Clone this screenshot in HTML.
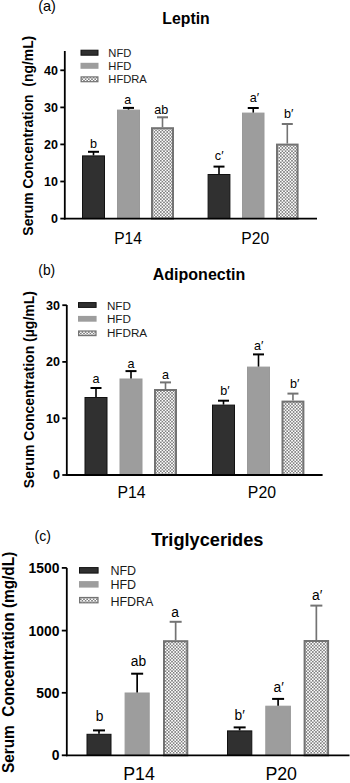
<!DOCTYPE html>
<html><head><meta charset="utf-8"><style>
html,body{margin:0;padding:0;background:#fff;}
body{width:350px;height:783px;overflow:hidden;}
svg{display:block;font-family:"Liberation Sans", sans-serif;}
</style></head><body>
<svg width="350" height="783" viewBox="0 0 350 783">
<defs>
<pattern id="chk" x="0" y="0" width="3.2" height="3.2" patternUnits="userSpaceOnUse">
<rect width="3.2" height="3.2" fill="#ffffff"/>
<rect width="1.6" height="1.6" fill="#808080"/>
<rect x="1.6" y="1.6" width="1.6" height="1.6" fill="#808080"/>
</pattern>
</defs>
<rect width="350" height="783" fill="#fff"/>
<text x="38.2" y="10.6" font-size="14.5" font-weight="normal" text-anchor="start" fill="#000" >(a)</text>
<text x="186" y="23.5" font-size="15.8" font-weight="bold" text-anchor="middle" fill="#000" >Leptin</text>
<text transform="translate(33.3,135.7) rotate(-90) scale(1,1)" font-size="13.9" font-weight="bold" text-anchor="middle" style="white-space:pre">Serum Concentration  (ng/mL)</text>
<rect x="81.0" y="50.2" width="17" height="5" fill="#303030" stroke="#111111" stroke-width="1"/>
<text x="108.3" y="56.5" font-size="11.2" font-weight="normal" text-anchor="start" fill="#1a1a1a" >NFD</text>
<rect x="80.5" y="62.8" width="18" height="6" fill="#9d9d9d"/>
<text x="108.3" y="69.6" font-size="11.2" font-weight="normal" text-anchor="start" fill="#1a1a1a" >HFD</text>
<rect x="81.1" y="76.89999999999999" width="16.8" height="4.8" fill="url(#chk)" stroke="#737373" stroke-width="1.2"/>
<text x="108.3" y="82.8" font-size="11.2" font-weight="normal" text-anchor="start" fill="#1a1a1a" >HFDRA</text>
<rect x="82.5" y="155.9" width="22" height="62.69999999999999" fill="#303030" stroke="#111111" stroke-width="1"/>
<line x1="93.5" y1="151.8" x2="93.5" y2="155.4" stroke="#000" stroke-width="1.6"/>
<line x1="88.0" y1="151.8" x2="99.0" y2="151.8" stroke="#000" stroke-width="2"/>
<text x="93.6" y="148.1" font-size="12.6" font-weight="normal" text-anchor="middle" fill="#000" >b</text>
<rect x="117.5" y="110.1" width="22" height="108.5" fill="#9d9d9d" stroke="#999999" stroke-width="1"/>
<line x1="128.5" y1="107.9" x2="128.5" y2="109.6" stroke="#000" stroke-width="1.6"/>
<line x1="123.0" y1="107.9" x2="134.0" y2="107.9" stroke="#000" stroke-width="2"/>
<text x="127.7" y="104" font-size="12.6" font-weight="normal" text-anchor="middle" fill="#000" >a</text>
<rect x="152" y="128.2" width="21" height="90.39999999999999" fill="url(#chk)" stroke="#737373" stroke-width="2"/>
<line x1="162.5" y1="117.3" x2="162.5" y2="127.2" stroke="#737373" stroke-width="1.6"/>
<line x1="157.0" y1="117.3" x2="168.0" y2="117.3" stroke="#737373" stroke-width="2"/>
<text x="161.2" y="113.6" font-size="12.6" font-weight="normal" text-anchor="middle" fill="#000" >ab</text>
<rect x="208.1" y="174.5" width="21.80000000000001" height="44.099999999999994" fill="#303030" stroke="#111111" stroke-width="1"/>
<line x1="219.0" y1="166.6" x2="219.0" y2="174" stroke="#000" stroke-width="1.6"/>
<line x1="213.5" y1="166.6" x2="224.5" y2="166.6" stroke="#000" stroke-width="2"/>
<text x="219.2" y="160" font-size="12.6" font-weight="normal" text-anchor="middle" fill="#000" >c′</text>
<rect x="242.5" y="113.1" width="21.5" height="105.5" fill="#9d9d9d" stroke="#999999" stroke-width="1"/>
<line x1="253.25" y1="108" x2="253.25" y2="112.6" stroke="#000" stroke-width="1.6"/>
<line x1="247.75" y1="108" x2="258.75" y2="108" stroke="#000" stroke-width="2"/>
<text x="254.5" y="101.6" font-size="12.6" font-weight="normal" text-anchor="middle" fill="#000" >a′</text>
<rect x="277" y="144.6" width="20.600000000000023" height="74.0" fill="url(#chk)" stroke="#737373" stroke-width="2"/>
<line x1="287.3" y1="124" x2="287.3" y2="143.6" stroke="#737373" stroke-width="1.6"/>
<line x1="281.8" y1="124" x2="292.8" y2="124" stroke="#737373" stroke-width="2"/>
<text x="288.7" y="117.6" font-size="12.6" font-weight="normal" text-anchor="middle" fill="#000" >b′</text>
<line x1="64.8" y1="51" x2="64.8" y2="219.5" stroke="#000" stroke-width="1.8"/>
<line x1="63.9" y1="218.6" x2="317" y2="218.6" stroke="#000" stroke-width="1.8"/>
<line x1="60.3" y1="70.3" x2="64.8" y2="70.3" stroke="#000" stroke-width="1.8"/>
<text x="58" y="74.7" font-size="12.5" font-weight="bold" text-anchor="end" fill="#000" >40</text>
<line x1="60.3" y1="107.4" x2="64.8" y2="107.4" stroke="#000" stroke-width="1.8"/>
<text x="58" y="111.80000000000001" font-size="12.5" font-weight="bold" text-anchor="end" fill="#000" >30</text>
<line x1="60.3" y1="144.4" x2="64.8" y2="144.4" stroke="#000" stroke-width="1.8"/>
<text x="58" y="148.8" font-size="12.5" font-weight="bold" text-anchor="end" fill="#000" >20</text>
<line x1="60.3" y1="181.5" x2="64.8" y2="181.5" stroke="#000" stroke-width="1.8"/>
<text x="58" y="185.9" font-size="12.5" font-weight="bold" text-anchor="end" fill="#000" >10</text>
<line x1="60.3" y1="218.6" x2="64.8" y2="218.6" stroke="#000" stroke-width="1.8"/>
<text x="58" y="223.0" font-size="12.5" font-weight="bold" text-anchor="end" fill="#000" >0</text>
<text x="128" y="243.6" font-size="15.6" font-weight="normal" text-anchor="middle" fill="#000" >P14</text>
<text x="255.2" y="243.6" font-size="15.6" font-weight="normal" text-anchor="middle" fill="#000" >P20</text>
<text x="38.3" y="274.6" font-size="13.8" font-weight="normal" text-anchor="start" fill="#000" >(b)</text>
<text x="199" y="279.7" font-size="16" font-weight="bold" text-anchor="middle" fill="#000" >Adiponectin</text>
<text transform="translate(34.3,389.6) rotate(-90) scale(1,1)" font-size="14" font-weight="bold" text-anchor="middle" style="white-space:pre">Serum Concentration (µg/mL)</text>
<rect x="78.5" y="302.6" width="17.6" height="4.8" fill="#303030" stroke="#111111" stroke-width="1"/>
<text x="106.9" y="309.5" font-size="11.7" font-weight="normal" text-anchor="start" fill="#1a1a1a" >NFD</text>
<rect x="78" y="315.9" width="18.6" height="5.8" fill="#9d9d9d"/>
<text x="106.9" y="323.3" font-size="11.7" font-weight="normal" text-anchor="start" fill="#1a1a1a" >HFD</text>
<rect x="78.6" y="331.0" width="17.400000000000002" height="4.6" fill="url(#chk)" stroke="#737373" stroke-width="1.2"/>
<text x="106.9" y="337.0" font-size="11.7" font-weight="normal" text-anchor="start" fill="#1a1a1a" >HFDRA</text>
<rect x="85.0" y="397.5" width="22.0" height="77.5" fill="#303030" stroke="#111111" stroke-width="1"/>
<line x1="96.0" y1="388" x2="96.0" y2="397" stroke="#000" stroke-width="1.6"/>
<line x1="90.5" y1="388" x2="101.5" y2="388" stroke="#000" stroke-width="2"/>
<text x="96.1" y="382.9" font-size="12.6" font-weight="normal" text-anchor="middle" fill="#000" >a</text>
<rect x="120.0" y="379.0" width="22.0" height="96.0" fill="#9d9d9d" stroke="#999999" stroke-width="1"/>
<line x1="131.0" y1="371.1" x2="131.0" y2="378.5" stroke="#000" stroke-width="1.6"/>
<line x1="125.5" y1="371.1" x2="136.5" y2="371.1" stroke="#000" stroke-width="2"/>
<text x="130.9" y="367.9" font-size="12.6" font-weight="normal" text-anchor="middle" fill="#000" >a</text>
<rect x="155" y="390" width="21" height="85" fill="url(#chk)" stroke="#737373" stroke-width="2"/>
<line x1="165.5" y1="382.4" x2="165.5" y2="389" stroke="#737373" stroke-width="1.6"/>
<line x1="160.0" y1="382.4" x2="171.0" y2="382.4" stroke="#737373" stroke-width="2"/>
<text x="165.4" y="379.4" font-size="12.6" font-weight="normal" text-anchor="middle" fill="#000" >a</text>
<rect x="212.5" y="405.1" width="22" height="69.89999999999998" fill="#303030" stroke="#111111" stroke-width="1"/>
<line x1="223.5" y1="400.7" x2="223.5" y2="404.6" stroke="#000" stroke-width="1.6"/>
<line x1="218.0" y1="400.7" x2="229.0" y2="400.7" stroke="#000" stroke-width="2"/>
<text x="225" y="395.4" font-size="12.6" font-weight="normal" text-anchor="middle" fill="#000" >b′</text>
<rect x="247.5" y="367.1" width="22" height="107.89999999999998" fill="#9d9d9d" stroke="#999999" stroke-width="1"/>
<line x1="258.5" y1="354.4" x2="258.5" y2="366.6" stroke="#000" stroke-width="1.6"/>
<line x1="253.0" y1="354.4" x2="264.0" y2="354.4" stroke="#000" stroke-width="2"/>
<text x="258.7" y="350" font-size="12.6" font-weight="normal" text-anchor="middle" fill="#000" >a′</text>
<rect x="282.5" y="401.6" width="20.899999999999977" height="73.39999999999998" fill="url(#chk)" stroke="#737373" stroke-width="2"/>
<line x1="292.95" y1="393.6" x2="292.95" y2="400.6" stroke="#737373" stroke-width="1.6"/>
<line x1="287.45" y1="393.6" x2="298.45" y2="393.6" stroke="#737373" stroke-width="2"/>
<text x="294.7" y="388" font-size="12.6" font-weight="normal" text-anchor="middle" fill="#000" >b′</text>
<line x1="66.8" y1="305" x2="66.8" y2="475.9" stroke="#000" stroke-width="1.8"/>
<line x1="65.89999999999999" y1="475" x2="322.6" y2="475" stroke="#000" stroke-width="1.8"/>
<line x1="62.3" y1="305.2" x2="66.8" y2="305.2" stroke="#000" stroke-width="1.8"/>
<text x="60" y="309.59999999999997" font-size="12.5" font-weight="bold" text-anchor="end" fill="#000" >30</text>
<line x1="62.3" y1="361.9" x2="66.8" y2="361.9" stroke="#000" stroke-width="1.8"/>
<text x="60" y="366.29999999999995" font-size="12.5" font-weight="bold" text-anchor="end" fill="#000" >20</text>
<line x1="62.3" y1="418.3" x2="66.8" y2="418.3" stroke="#000" stroke-width="1.8"/>
<text x="60" y="422.7" font-size="12.5" font-weight="bold" text-anchor="end" fill="#000" >10</text>
<line x1="62.3" y1="475" x2="66.8" y2="475" stroke="#000" stroke-width="1.8"/>
<text x="60" y="479.4" font-size="12.5" font-weight="bold" text-anchor="end" fill="#000" >0</text>
<text x="131.5" y="498.1" font-size="15.8" font-weight="normal" text-anchor="middle" fill="#000" >P14</text>
<text x="261.9" y="498.1" font-size="15.8" font-weight="normal" text-anchor="middle" fill="#000" >P20</text>
<text x="34.6" y="541.3" font-size="14" font-weight="normal" text-anchor="start" fill="#000" >(c)</text>
<text x="207.3" y="546.3" font-size="18.2" font-weight="bold" text-anchor="middle" fill="#000" >Triglycerides</text>
<text transform="translate(13.6,662.4) rotate(-90) scale(1,1.1)" font-size="15.4" font-weight="bold" text-anchor="middle" style="white-space:pre">Serum  Concentration (mg/dL)</text>
<rect x="79.5" y="567.6" width="18.6" height="5.5" fill="#303030" stroke="#111111" stroke-width="1"/>
<text x="110.4" y="574.6" font-size="12.5" font-weight="normal" text-anchor="start" fill="#1a1a1a" >NFD</text>
<rect x="79" y="581.1" width="19.6" height="6.5" fill="#9d9d9d"/>
<text x="110.4" y="588.6" font-size="12.5" font-weight="normal" text-anchor="start" fill="#1a1a1a" >HFD</text>
<rect x="79.6" y="597.5" width="18.400000000000002" height="5.3" fill="url(#chk)" stroke="#737373" stroke-width="1.2"/>
<text x="110.4" y="605.6" font-size="12.5" font-weight="normal" text-anchor="start" fill="#1a1a1a" >HFDRA</text>
<rect x="87.0" y="734.3" width="24.0" height="21.0" fill="#303030" stroke="#111111" stroke-width="1"/>
<line x1="99.0" y1="730.4" x2="99.0" y2="733.8" stroke="#000" stroke-width="1.7"/>
<line x1="93.0" y1="730.4" x2="105.0" y2="730.4" stroke="#000" stroke-width="2"/>
<text transform="translate(99.50,721.00) scale(1,1.03)" font-size="13.8" font-weight="normal" text-anchor="middle" fill="#000" >b</text>
<rect x="125.1" y="693.0" width="24.099999999999994" height="62.299999999999955" fill="#9d9d9d" stroke="#999999" stroke-width="1"/>
<line x1="137.14999999999998" y1="673.7" x2="137.14999999999998" y2="692.5" stroke="#000" stroke-width="1.7"/>
<line x1="131.14999999999998" y1="673.7" x2="143.14999999999998" y2="673.7" stroke="#000" stroke-width="2"/>
<text transform="translate(138.40,666.10) scale(1,1.03)" font-size="13.8" font-weight="normal" text-anchor="middle" fill="#000" >ab</text>
<rect x="164" y="641.2" width="23.30000000000001" height="114.09999999999991" fill="url(#chk)" stroke="#737373" stroke-width="2"/>
<line x1="175.65" y1="621.8" x2="175.65" y2="640.2" stroke="#737373" stroke-width="1.7"/>
<line x1="169.65" y1="621.8" x2="181.65" y2="621.8" stroke="#737373" stroke-width="2"/>
<text transform="translate(175.00,616.90) scale(1,1.03)" font-size="13.8" font-weight="normal" text-anchor="middle" fill="#000" >a</text>
<rect x="227.5" y="730.9" width="24.30000000000001" height="24.399999999999977" fill="#303030" stroke="#111111" stroke-width="1"/>
<line x1="239.65" y1="727.4" x2="239.65" y2="730.4" stroke="#000" stroke-width="1.7"/>
<line x1="233.65" y1="727.4" x2="245.65" y2="727.4" stroke="#000" stroke-width="2"/>
<text transform="translate(239.70,719.50) scale(1,1.03)" font-size="13.8" font-weight="normal" text-anchor="middle" fill="#000" >b′</text>
<rect x="265.8" y="706.2" width="24.599999999999966" height="49.09999999999991" fill="#9d9d9d" stroke="#999999" stroke-width="1"/>
<line x1="278.1" y1="698.9" x2="278.1" y2="705.7" stroke="#000" stroke-width="1.7"/>
<line x1="272.1" y1="698.9" x2="284.1" y2="698.9" stroke="#000" stroke-width="2"/>
<text transform="translate(278.60,692.00) scale(1,1.03)" font-size="13.8" font-weight="normal" text-anchor="middle" fill="#000" >a′</text>
<rect x="304.6" y="641" width="23.5" height="114.29999999999995" fill="url(#chk)" stroke="#737373" stroke-width="2"/>
<line x1="316.35" y1="605.6" x2="316.35" y2="640" stroke="#737373" stroke-width="1.7"/>
<line x1="310.35" y1="605.6" x2="322.35" y2="605.6" stroke="#737373" stroke-width="2"/>
<text transform="translate(317.10,599.70) scale(1,1.03)" font-size="13.8" font-weight="normal" text-anchor="middle" fill="#000" >a′</text>
<line x1="66.8" y1="567.9" x2="66.8" y2="756.1999999999999" stroke="#000" stroke-width="1.8"/>
<line x1="65.89999999999999" y1="755.3" x2="349.5" y2="755.3" stroke="#000" stroke-width="1.8"/>
<line x1="61.8" y1="567.9" x2="66.8" y2="567.9" stroke="#000" stroke-width="1.8"/>
<text x="59.4" y="572.8" font-size="13.9" font-weight="bold" text-anchor="end" fill="#000" >1500</text>
<line x1="61.8" y1="630.6" x2="66.8" y2="630.6" stroke="#000" stroke-width="1.8"/>
<text x="59.4" y="635.5" font-size="13.9" font-weight="bold" text-anchor="end" fill="#000" >1000</text>
<line x1="61.8" y1="692.8" x2="66.8" y2="692.8" stroke="#000" stroke-width="1.8"/>
<text x="59.4" y="697.6999999999999" font-size="13.9" font-weight="bold" text-anchor="end" fill="#000" >500</text>
<line x1="61.8" y1="755.3" x2="66.8" y2="755.3" stroke="#000" stroke-width="1.8"/>
<text x="59.4" y="760.1999999999999" font-size="13.9" font-weight="bold" text-anchor="end" fill="#000" >0</text>
<text x="139" y="780.2" font-size="17.8" font-weight="normal" text-anchor="middle" fill="#000" >P14</text>
<text x="281.2" y="780.2" font-size="17.8" font-weight="normal" text-anchor="middle" fill="#000" >P20</text>
</svg>
</body></html>
